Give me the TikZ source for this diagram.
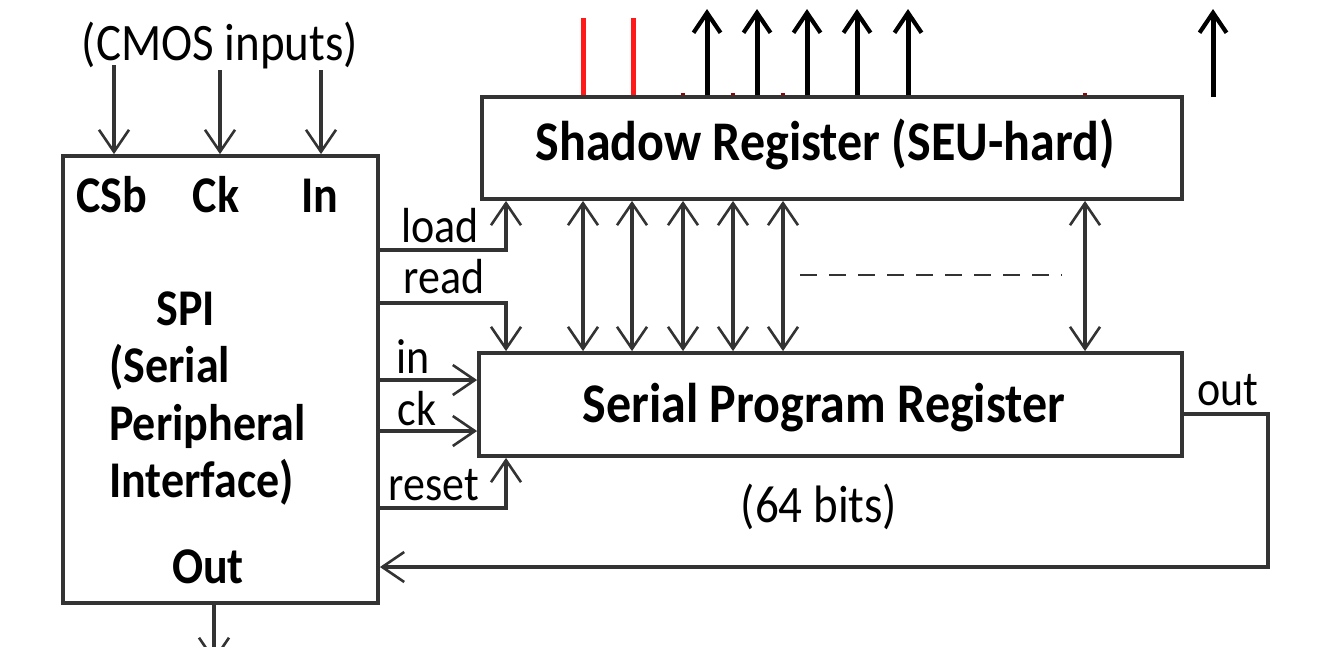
\documentclass[tikz,border=0pt]{standalone}
\usepackage{fontspec}
\setmainfont{Carlito}
\usetikzlibrary{arrows.meta,calc}
\newcommand{\vs}[1]{\scalebox{1}[1.12]{#1}}
\begin{document}
\begin{tikzpicture}[x=1pt,y=-1pt,
  box/.style={draw=black!80,line width=3.8pt,fill=white,inner sep=0pt},
  wire/.style={draw=black!80,line width=3.4pt},
  tip/.tip={Straight Barb[length=22pt,width=30pt,line width=2.6pt]},
  arr/.style={wire,-tip},
  darr/.style={wire,tip-tip},
  uparr/.style={draw=black,line width=5pt,-{Straight Barb[length=20pt,width=27pt,line width=4.2pt]}},
  redl/.style={draw=red!90,line width=5pt},
  ttl/.style={font=\fontsize{50}{56}\selectfont\bfseries,inner sep=0pt,anchor=base},
  big/.style={font=\fontsize{46}{52}\selectfont\bfseries,inner sep=0pt,anchor=base},
  mid/.style={font=\fontsize{47}{52}\selectfont,inner sep=0pt,anchor=base},
  sml/.style={font=\fontsize{44}{50}\selectfont,inner sep=0pt,anchor=base}
]
\useasboundingbox (0,0) rectangle (1321,646);
\clip (0,0) rectangle (1321,646);

% boxes
\node[box,minimum width=315pt,minimum height=447pt] (spi) at (220.5,379.5) {};
\node[box,minimum width=700pt,minimum height=102pt] (shadow) at (832,148) {};
\node[box,minimum width=703pt,minimum height=103pt] (spr) at (830.5,404.5) {};

% box texts
\node[ttl] (tsh) at (825,160) {\vs{Shadow Register (SEU-hard)}};
\node[ttl] (tspr) at (824,422) {\vs{Serial Program Register}};
\node[mid] (t64) at (819,522) {\vs{(64 bits)}};
\node[mid] (tcmos) at (220,60) {\vs{(CMOS inputs)}};
\node[big] (tcsb) at (112,212) {\vs{CSb}};
\node[big] (tck) at (216,212) {\vs{Ck}};
\node[big] (tin) at (320,212) {\vs{In}};
\node[big] (tspi) at (186,325) {\vs{SPI}};
\node[big,anchor=base west] (tser) at (109,382) {\vs{(Serial}};
\node[big,anchor=base west] (tper) at (109,440) {\vs{Peripheral}};
\node[big,anchor=base west] (tint) at (109,497) {\vs{Interface)}};
\node[big] (tout) at (208,583) {\vs{Out}};

% CMOS input arrows
\coordinate (c1) at (114,65);
\coordinate (c2) at (220,70);
\coordinate (c3) at (321,70);
\draw[arr] (c1) -- (spi.north -| c1);
\draw[arr] (c2) -- (spi.north -| c2);
\draw[arr] (c3) -- (spi.north -| c3);

% SPI output down
\coordinate (od) at (214,662);
\draw[arr] (spi.south -| od) -- (od);

% control lines
\coordinate (yload) at (0,250);
\coordinate (yread) at (0,303);
\coordinate (yin) at (0,380);
\coordinate (yck) at (0,431);
\coordinate (yreset) at (0,508);
\coordinate (xv) at (506,0);
\draw[arr] (spi.east |- yload) -| (shadow.south -| xv);
\draw[arr] (spi.east |- yread) -| (spr.north -| xv);
\draw[arr] (spi.east |- yin) -- (spr.west |- yin);
\draw[arr] (spi.east |- yck) -- (spr.west |- yck);
\draw[arr] (spi.east |- yreset) -| (spr.south -| xv);
\node[sml] (lload) at (440,242) {\vs{load}};
\node[sml] (lread) at (444,293) {\vs{read}};
\node[sml] (lin) at (413,373) {\vs{in}};
\node[sml] (lck) at (417,425) {\vs{ck}};
\node[sml] (lreset) at (434,500) {\vs{reset}};

% bidirectional links
\foreach \x [count=\i] in {583,632,683,733,783,1085}{
  \coordinate (b\i) at (\x,0);
  \draw[darr] (shadow.south -| b\i) -- (spr.north -| b\i);
}
\coordinate (dl) at (800,275);
\coordinate (dr) at (1062,275);
\draw[wire,line width=2.8pt,dash pattern=on 17pt off 12pt] (dl) -- (dr);

% out feedback
\coordinate (yo) at (0,414);
\coordinate (ob) at (1268,567);
\draw[arr] (spr.east |- yo) -| (ob) -- (spi.east |- ob);
\node[sml] (lout) at (1228,405) {\vs{out}};

% top lines
\coordinate (r1) at (583,18);
\coordinate (r2) at (633,18);
\draw[redl] (shadow.north -| r1) -- (r1);
\draw[redl] (shadow.north -| r2) -- (r2);
\foreach \x [count=\i] in {683,733,783,1085}{
  \coordinate (rd\i) at (\x,93);
  \draw[draw=red!60!black,line width=4pt] (shadow.north -| rd\i) -- (rd\i);
}
\foreach \x [count=\i] in {707,757,807,857,908}{
  \coordinate (t\i) at (\x,9);
  \draw[uparr] (shadow.north -| t\i) -- (t\i);
}
\coordinate (t6) at (1213,9);
\coordinate (t6b) at (1213,97);
\draw[uparr] (t6b) -- (t6);
\end{tikzpicture}
\end{document}
